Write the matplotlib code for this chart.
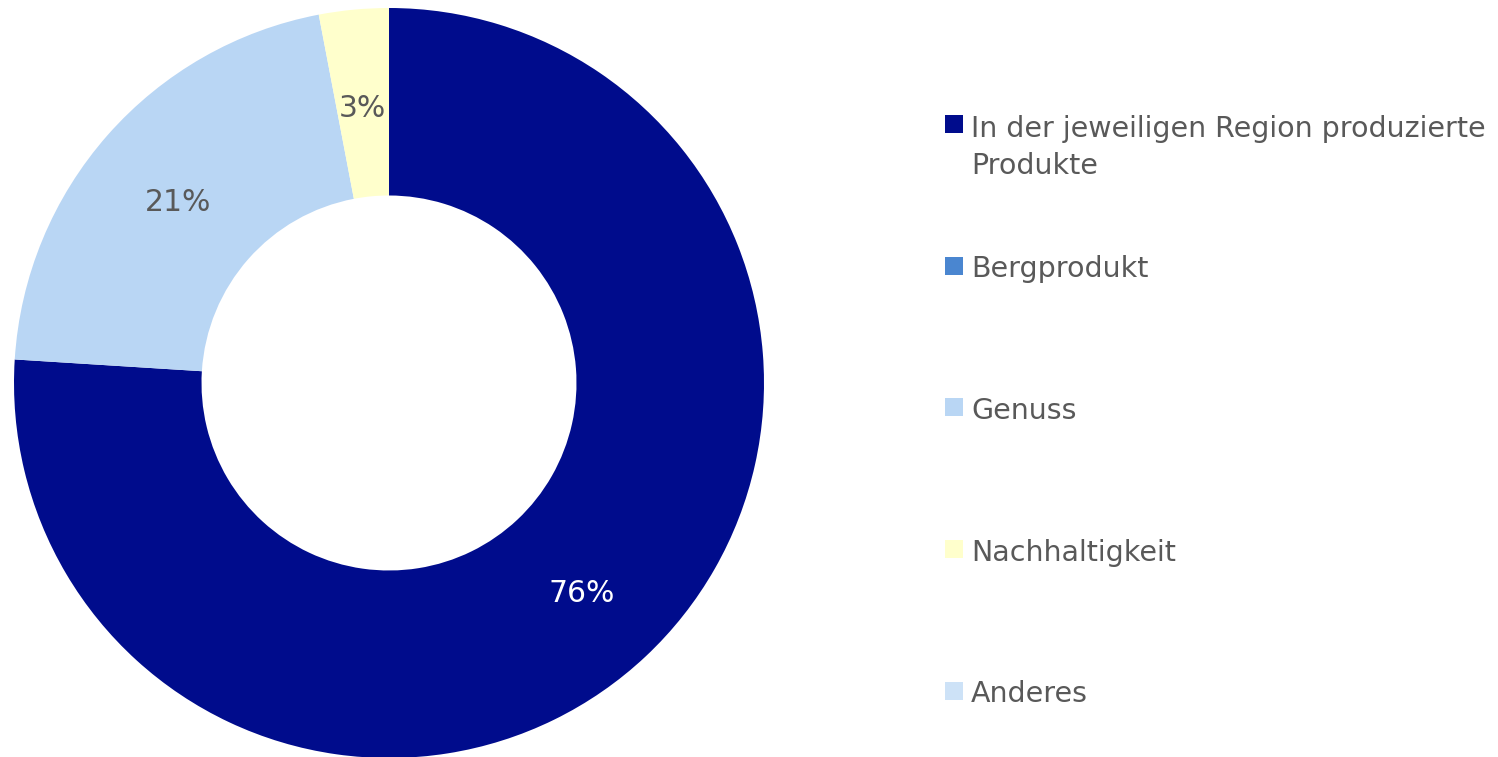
import matplotlib.pyplot as plt
from matplotlib.patches import Rectangle

plt.rcParams['font.family'] = ['DejaVu Sans']

# data
categories = ['In der jeweiligen Region produzierte\nProdukte', 'Bergprodukt',
              'Genuss', 'Nachhaltigkeit', 'Anderes']
values = [76, 0, 21, 3, 0]
colors = ['#000C8C', '#4A86D0', '#B9D6F4', '#FFFFCC', '#CDE2F7']
label_colors = ['white', '#595959', '#595959', '#595959', '#595959']

W, H = 1498, 757
fig = plt.figure(figsize=(W / 100, H / 100), dpi=100)

# donut
cx, cy, r = 389, 383, 375
ax = fig.add_axes([(cx - r) / W, (H - cy - r) / H, 2 * r / W, 2 * r / H])
wedges, texts, autotexts = ax.pie(
    values, colors=colors, startangle=90, counterclock=False,
    autopct=lambda p: '%.0f%%' % p if p > 0 else '',
    pctdistance=0.75, radius=1,
    wedgeprops=dict(width=0.5, linewidth=0))
for t, c in zip(autotexts, label_colors):
    t.set_color(c)
    t.set_fontsize(21.5)
    x, y = t.get_position()
    t.set_position((x, y - 0.014))
ax.set_xlim(-1, 1)
ax.set_ylim(-1, 1)
ax.set_aspect('equal')
ax.axis('off')

# legend (drawn by hand, marker aligned with first line)
x0, y0, step, line_h = 945, 124, 141.7, 38
for i, (lab, col) in enumerate(zip(categories, colors)):
    yc = y0 + i * step
    fig.patches.append(Rectangle((x0 / W, (H - yc - 9) / H), 18 / W, 18 / H,
                                 transform=fig.transFigure, facecolor=col,
                                 edgecolor='none'))
    nl = lab.count('\n')
    fig.text((x0 + 26) / W, (H - yc - 11.5 - nl * line_h) / H, lab,
             fontsize=20.5, color='#595959', va='baseline', ha='left',
             linespacing=1.37, multialignment='left')

fig.savefig('out.png', dpi=100)
